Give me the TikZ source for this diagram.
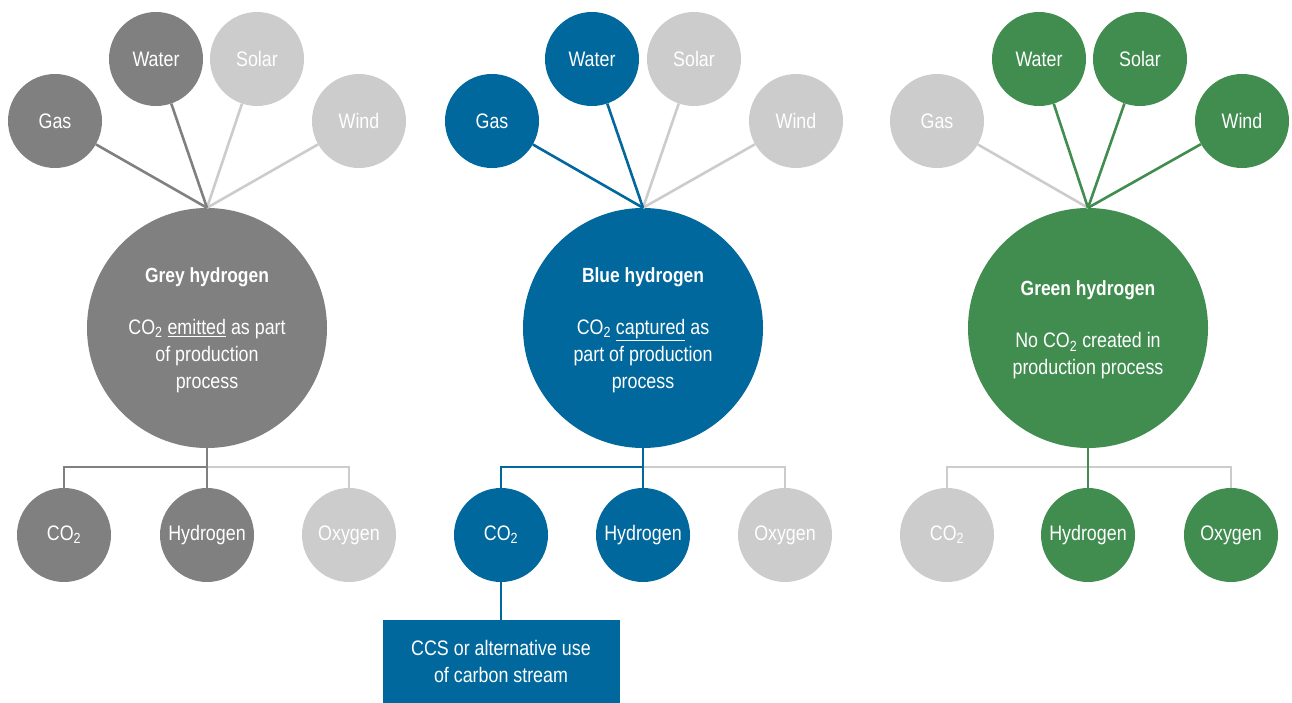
\documentclass[tikz,border=0pt]{standalone}
\usepackage{fontspec}
\setmainfont{Liberation Sans}[FakeStretch=0.85]
\definecolor{dgrey}{HTML}{808080}
\definecolor{lgrey}{HTML}{CCCCCC}
\definecolor{hblue}{HTML}{00689C}
\definecolor{hgreen}{HTML}{418D50}
\tikzset{
  src/.style={circle, minimum size=94pt, inner sep=0pt, text=white, font=\fontsize{21}{25}\selectfont},
  hub/.style={circle, minimum size=240pt, inner sep=0pt, text=white, align=center},
  body/.style={text=white, align=center, font=\fontsize{21}{27}\selectfont},
  link/.style={line width=2.6pt},
  ttl/.style={text=white, font=\bfseries\fontsize{20.5}{24}\selectfont},
}
\newcommand{\cotwo}{CO\textsubscript{2}}
\begin{document}
\begin{tikzpicture}[x=1pt,y=-1pt]
\useasboundingbox (0,0) rectangle (1292,703);
% ---------- Grey ----------
\node[hub, fill=dgrey] (gmain) at (207,328) {};
\node[ttl] (gtitle) at (207,277) {Grey hydrogen};
\node[body] (gbody) at (207,356) {\cotwo{} \underline{emitted} as part\\of production\\process};
\node[src, fill=dgrey] (ggas) at (55,121) {Gas};
\node[src, fill=dgrey] (gwater) at (156,59) {Water};
\node[src, fill=lgrey] (gsolar) at (257,59) {Solar};
\node[src, fill=lgrey] (gwind) at (359,121) {Wind};
\node[src, fill=dgrey] (gco) at (64,535) {\cotwo};
\node[src, fill=dgrey] (ghyd) at (207,535) {Hydrogen};
\node[src, fill=lgrey] (goxy) at (349,535) {Oxygen};
\coordinate (gj) at (207,467);
\draw[link, lgrey] (gsolar) -- (gmain.north);
\draw[link, lgrey] (gwind) -- (gmain.north);
\draw[link, dgrey] (ggas) -- (gmain.north);
\draw[link, dgrey] (gwater) -- (gmain.north);
\draw[link, lgrey] (gj) -| (goxy.north);
\draw[link, dgrey] (gco.north) |- (gj);
\draw[link, dgrey] (gmain.south) -- (ghyd.north);
% ---------- Blue ----------
\node[hub, fill=hblue] (bmain) at (643,328) {};
\node[ttl] (btitle) at (643,277) {Blue hydrogen};
\node[body] (bbody) at (643,356) {\cotwo{} \underline{captured} as\\part of production\\process};
\node[src, fill=hblue] (bgas) at (492,121) {Gas};
\node[src, fill=hblue] (bwater) at (592,59) {Water};
\node[src, fill=lgrey] (bsolar) at (694,59) {Solar};
\node[src, fill=lgrey] (bwind) at (796,121) {Wind};
\node[src, fill=hblue] (bco) at (501,535) {\cotwo};
\node[src, fill=hblue] (bhyd) at (643,535) {Hydrogen};
\node[src, fill=lgrey] (boxy) at (785,535) {Oxygen};
\coordinate (bj) at (643,467);
\node[fill=hblue, text=white, minimum width=237pt, minimum height=83pt, inner sep=0pt, align=center, font=\fontsize{21}{27}\selectfont, anchor=north] (bccs) at (501,620) {CCS or alternative use\\of carbon stream};
\draw[link, lgrey] (bsolar) -- (bmain.north);
\draw[link, lgrey] (bwind) -- (bmain.north);
\draw[link, hblue] (bgas) -- (bmain.north);
\draw[link, hblue] (bwater) -- (bmain.north);
\draw[link, lgrey] (bj) -| (boxy.north);
\draw[link, hblue] (bco.north) |- (bj);
\draw[link, hblue] (bmain.south) -- (bhyd.north);
\draw[link, hblue] (bco.south) -- (bccs.north);
% ---------- Green ----------
\node[hub, fill=hgreen] (nmain) at (1088,328) {};
\node[ttl] (ntitle) at (1088,290) {Green hydrogen};
\node[body] (nbody) at (1088,356) {No \cotwo{} created in\\production process};
\node[src, fill=lgrey] (ngas) at (937,121) {Gas};
\node[src, fill=hgreen] (nwater) at (1039,59) {Water};
\node[src, fill=hgreen] (nsolar) at (1140,59) {Solar};
\node[src, fill=hgreen] (nwind) at (1242,121) {Wind};
\node[src, fill=lgrey] (nco) at (947,535) {\cotwo};
\node[src, fill=hgreen] (nhyd) at (1088,535) {Hydrogen};
\node[src, fill=hgreen] (noxy) at (1231,535) {Oxygen};
\coordinate (nj) at (1088,467);
\draw[link, lgrey] (ngas) -- (nmain.north);
\draw[link, hgreen] (nwater) -- (nmain.north);
\draw[link, hgreen] (nsolar) -- (nmain.north);
\draw[link, hgreen] (nwind) -- (nmain.north);
\draw[link, lgrey] (nco.north) |- (nj) -| (noxy.north);
\draw[link, hgreen] (nmain.south) -- (nhyd.north);
\end{tikzpicture}
\end{document}
